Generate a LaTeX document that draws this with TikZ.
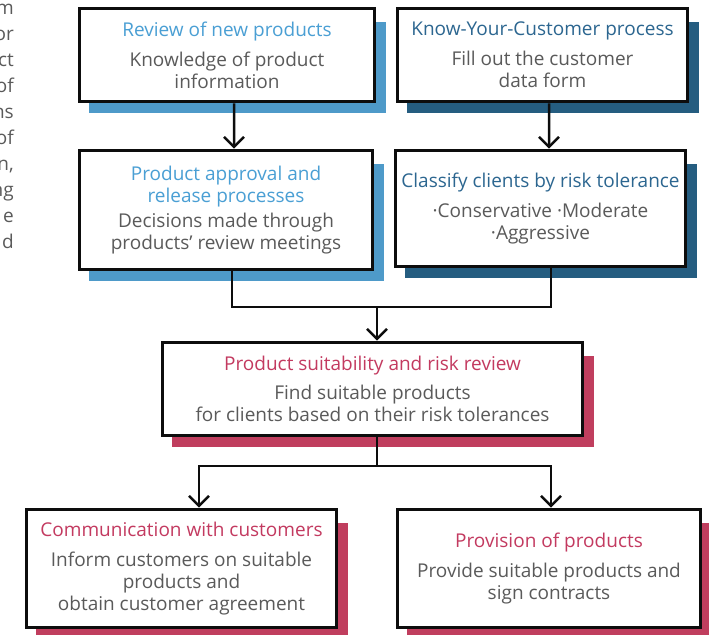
\documentclass[tikz,border=0pt]{standalone}
\usepackage{fontspec}
\setmainfont{Open Sans}
\usetikzlibrary{arrows.meta,calc,backgrounds}
\definecolor{lbshadow}{HTML}{4E9AC9}
\definecolor{lbtitle}{HTML}{4A9FD4}
\definecolor{dbshadow}{HTML}{255D80}
\definecolor{dbtitle}{HTML}{2C6690}
\definecolor{rdshadow}{HTML}{C03E5E}
\definecolor{rdtitle}{HTML}{C33A60}
\definecolor{bodygray}{HTML}{5A5A5A}
\tikzset{
  box/.style={draw=black!95, line width=3bp, fill=white, align=center,
    inner sep=0pt, text=bodygray,
    font=\fontsize{19bp}{22bp}\selectfont},
  conn/.style={line width=2.5bp, draw=black!95},
  arr/.style={conn, -{Straight Barb[length=10bp,width=20bp]}},
}
\newcommand{\shadowbox}[2]{\fill[#2] ($(#1.north west)+(11,15)$) rectangle ($(#1.south east)+(10,10)$);}
\begin{document}
\begin{tikzpicture}[x=1bp,y=-1bp]
\useasboundingbox (0,0) rectangle (709,635);
% cut-off text at left
\node[anchor=north east, align=right, inner sep=0pt, text=bodygray,
  font=\fontsize{19bp}{26bp}\selectfont] (lefttext) at (14,4)
  {m\\or\\ct\\of\\ns\\of\\n,\\ng\\e\\d};
% boxes
\node[box, minimum width=296, minimum height=94] (b1) at (227,55)
  {\textcolor{lbtitle}{Review of new products}\\[8bp]Knowledge of product\\information};
\node[box, minimum width=291, minimum height=94] (b2) at (542.5,55)
  {\textcolor{dbtitle}{Know-Your-Customer process}\\[8bp]Fill out the customer\\data form};
\node[box, minimum width=294, minimum height=120] (b3) at (226,210)
  {\textcolor{lbtitle}{Product approval and}\\\textcolor{lbtitle}{release processes}\\[3bp]Decisions made through\\products’ review meetings};
\node[box, minimum width=291, minimum height=117] (b4) at (540.5,208.5)
  {\textcolor{dbtitle}{Classify clients by risk tolerance}\\[8bp]·Conservative ·Moderate\\·Aggressive};
\node[box, minimum width=421, minimum height=94] (b5) at (372.5,389)
  {\textcolor{rdtitle}{Product suitability and risk review}\\[7bp]Find suitable products\\for clients based on their risk tolerances};
\node[box, minimum width=311, minimum height=119] (b6) at (181.5,568.5)
  {\textcolor{rdtitle}{Communication with customers}\\[8bp]Inform customers on suitable\\products and\\obtain customer agreement};
\node[box, minimum width=304, minimum height=119] (b7) at (549,568.5)
  {\textcolor{rdtitle}{Provision of products}\\[8bp]Provide suitable products and\\sign contracts};
% shadows behind
\begin{scope}[on background layer]
  \shadowbox{b1}{lbshadow}
  \shadowbox{b2}{dbshadow}
  \shadowbox{b3}{lbshadow}
  \shadowbox{b4}{dbshadow}
  \shadowbox{b5}{rdshadow}
  \shadowbox{b6}{rdshadow}
  \shadowbox{b7}{rdshadow}
\end{scope}
% connectors
\coordinate (j1) at (377,307);
\coordinate (j2) at (377,466);
\draw[arr] ([xshift=7bp]b1.south) -- ([xshift=8bp]b3.north);
\draw[arr] ([xshift=6.5bp]b2.south) -- ([xshift=8.5bp]b4.north);
\draw[conn] ([xshift=6bp]b3.south) |- (j1) -| ([xshift=10.5bp]b4.south);
\draw[arr] (j1) -- (j1 |- b5.north);
\draw[conn] (b5.south -| j2) -- (j2);
\draw[arr] (j2) -| ([xshift=17.5bp]b6.north);
\draw[arr] (j2) -| ([xshift=2bp]b7.north);
\end{tikzpicture}
\end{document}
